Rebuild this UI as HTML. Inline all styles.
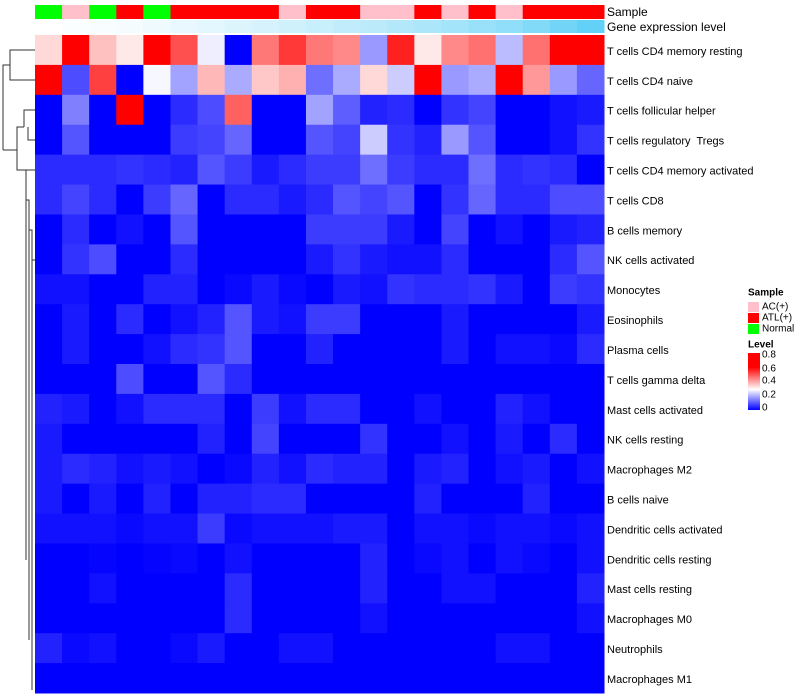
<!DOCTYPE html>
<html><head><meta charset="utf-8"><style>
html,body{margin:0;padding:0;background:#fff;width:800px;height:700px;overflow:hidden}
svg{display:block;font-family:"Liberation Sans",Arial,sans-serif}
</style></head><body>
<svg id="chart" width="800" height="700"></svg>
<script>
const rowLabels=["T cells CD4 memory resting","T cells CD4 naive","T cells follicular helper","T cells regulatory\u00a0 Tregs","T cells CD4 memory activated","T cells CD8","B cells memory","NK cells activated","Monocytes","Eosinophils","Plasma cells","T cells gamma delta","Mast cells activated","NK cells resting","Macrophages M2","B cells naive","Dendritic cells activated","Dendritic cells resting","Mast cells resting","Macrophages M0","Neutrophils","Macrophages M1"];
const sampleGroups=["Normal","AC(+)","Normal","ATL(+)","Normal","ATL(+)","ATL(+)","ATL(+)","ATL(+)","AC(+)","ATL(+)","ATL(+)","AC(+)","AC(+)","ATL(+)","AC(+)","ATL(+)","AC(+)","ATL(+)","ATL(+)","ATL(+)"];
const geneLevels=[0,0.02,0.04,0.06,0.09,0.12,0.15,0.19,0.22,0.26,0.3,0.34,0.37,0.41,0.45,0.5,0.55,0.6,0.68,0.76,0.85];
const levelTicks=[0,0.2,0.4,0.6,0.8];
const values=[
[0.33,0.8,0.36,0.31,0.8,0.5,0.28,0,0.45,0.53,0.45,0.43,0.18,0.56,0.31,0.43,0.46,0.22,0.46,0.8,0.8],
[0.6,0.09,0.52,0,0.29,0.19,0.37,0.2,0.35,0.38,0.13,0.2,0.33,0.24,0.8,0.18,0.2,0.8,0.41,0.18,0.12],
[0,0.15,0,0.62,0,0.05,0.09,0.48,0,0,0.19,0.11,0.04,0.05,0,0.06,0.08,0,0,0.02,0.03],
[0,0.1,0,0,0,0.07,0.08,0.12,0,0,0.1,0.08,0.24,0.06,0.04,0.18,0.1,0,0,0.02,0.06],
[0.05,0.05,0.05,0.06,0.05,0.04,0.1,0.07,0.03,0.05,0.07,0.07,0.13,0.07,0.05,0.05,0.13,0.05,0.06,0.05,0],
[0.05,0.08,0.05,0,0.07,0.12,0,0.05,0.05,0.03,0.05,0.1,0.08,0.1,0,0.06,0.12,0.05,0.05,0.09,0.09],
[0,0.05,0,0.02,0,0.1,0,0,0,0,0.07,0.07,0.07,0.03,0,0.08,0,0.02,0,0.03,0.04],
[0,0.06,0.09,0,0,0.05,0,0,0,0,0.03,0.06,0.03,0.02,0.02,0.05,0,0,0,0.05,0.1],
[0.02,0.02,0,0,0.04,0.04,0,0.01,0.03,0.01,0,0.03,0.02,0.06,0.05,0.05,0.06,0.03,0,0.07,0.06],
[0,0.03,0,0.05,0,0.02,0.04,0.1,0.03,0.02,0.07,0.07,0,0,0,0.03,0,0,0,0,0.03],
[0,0.03,0,0,0.02,0.05,0.06,0.1,0,0,0.04,0,0,0,0,0.03,0,0.02,0.02,0.01,0.05],
[0,0,0,0.09,0,0,0.1,0.05,0,0,0,0,0,0,0,0,0,0,0,0,0],
[0.04,0.03,0,0.02,0.05,0.05,0.05,0,0.07,0.02,0.05,0.05,0,0,0.02,0,0,0.04,0.02,0,0],
[0.03,0,0,0,0,0,0.04,0,0.08,0,0,0,0.06,0,0,0.02,0,0.03,0,0.05,0],
[0.03,0.05,0.04,0.02,0.03,0.02,0,0.01,0.04,0.02,0.05,0.04,0.04,0,0.03,0.04,0,0.02,0.03,0,0.02],
[0.03,0,0.03,0,0.04,0,0.04,0.04,0.05,0.05,0,0,0,0,0.04,0,0,0,0.04,0,0],
[0.02,0.02,0.02,0.01,0.02,0.02,0.07,0.01,0.02,0.02,0.02,0.03,0.03,0,0.02,0.02,0.01,0.02,0.02,0.01,0.02],
[0,0,0.005,0,0.005,0.01,0,0.02,0,0,0,0,0.04,0,0.01,0.02,0,0.02,0.01,0,0.02],
[0,0,0.02,0,0,0,0,0.05,0,0,0,0,0.04,0,0,0.02,0.02,0,0,0,0.04],
[0,0,0,0,0,0,0,0.05,0,0,0,0,0.02,0,0,0,0,0,0,0,0.02],
[0.04,0.01,0.02,0,0,0.01,0.03,0,0,0.02,0.02,0,0,0,0,0,0,0.02,0.02,0,0],
[0,0,0,0,0,0,0,0,0,0,0,0,0,0,0,0,0,0,0,0,0]
];
const sampleColors={"AC(+)":"#ffc0cb","ATL(+)":"#ff0000","Normal":"#00ff00"};
const NS="http://www.w3.org/2000/svg";
const svg=document.getElementById('chart');
const X0=35,X1=604,Y0=35,Y1=693;
const nC=values[0].length,nR=values.length;
const cw=(X1-X0)/nC,rh=(Y1-Y0)/nR;
function xCol(i){return X0+i*cw;}
function yRow(j){return Y0+j*rh;}
function lerp(a,b,t){return Math.round(a+(b-a)*t);}
function levelColor(v){
  if(v<=0.3){const t=Math.max(0,v/0.3);return `rgb(${lerp(0,255,t)},${lerp(0,255,t)},255)`;}
  const t=Math.min(1,(v-0.3)/0.3);return `rgb(255,${lerp(240,0,t)},${lerp(240,0,t)})`;
}
function geneColor(v){return `rgb(${lerp(255,70,v)},${lerp(255,200,v)},${lerp(255,245,v)})`;}
function el(tag,attrs){const e=document.createElementNS(NS,tag);for(const k in attrs)e.setAttribute(k,attrs[k]);svg.appendChild(e);return e;}
function txt(x,y,s,size,weight){const t=el('text',{x:x,y:y,'font-size':size,'font-weight':weight||'normal',fill:'#000','dominant-baseline':'middle'});t.textContent=s;return t;}
sampleGroups.forEach((g,i)=>{
  const r=el('rect',{x:xCol(i),y:5,width:cw+0.5,height:14,fill:sampleColors[g]});
  
  
});
geneLevels.forEach((v,i)=>{
  const r=el('rect',{x:xCol(i),y:20,width:cw+0.5,height:13,fill:geneColor(v)});
  
  
});
let t=txt(607,13,'Sample',12);
t=txt(607,28,'Gene expression level',12);
values.forEach((row,j)=>{
  row.forEach((v,i)=>{
    const r=el('rect',{x:xCol(i),y:yRow(j),width:cw+0.5,height:rh+0.5,fill:levelColor(v)});
    
    
  });
  const l=txt(607,yRow(j)+rh/2+2,rowLabels[j],11);
  
  
});
const dp="M35,50H10V80H35 M10,65H3V150 M35,110H24V127 M35,140H28V127 M24,127H17V160 M3,150H17 M17,160V170H26V560 M26,170H35 M26,200H29V640 M29,230H32V690 M32,260H35";
const d=el('path',{d:dp,stroke:'#333',fill:'none','stroke-width':1});


t=txt(748,293,'Sample',10,'bold');
["AC(+)","ATL(+)","Normal"].forEach((g,k)=>{
  const r=el('rect',{x:748,y:302+k*11,width:11,height:10,fill:sampleColors[g]});
  
  
  const l=txt(762,307+k*11,g,10);
  
  
});
t=txt(748,345,'Level',10,'bold');
const defs=el('defs',{});
const lg=document.createElementNS(NS,'linearGradient');lg.setAttribute('id','lvl');lg.setAttribute('x1',0);lg.setAttribute('y1',1);lg.setAttribute('x2',0);lg.setAttribute('y2',0);
[[0,'#0000ff'],[0.36,'#ffffff'],[0.75,'#ff0000'],[1,'#ff0000']].forEach(s=>{const st=document.createElementNS(NS,'stop');st.setAttribute('offset',s[0]);st.setAttribute('stop-color',s[1]);lg.appendChild(st);});
defs.appendChild(lg);
const cb=el('rect',{x:748,y:353,width:12,height:57,fill:'url(#lvl)'});


const tickY=[408,395,381,369,355];
levelTicks.forEach((v,k)=>{
  const l=txt(762,tickY[k],String(v),10);
  
  
});
</script>
</body></html>
